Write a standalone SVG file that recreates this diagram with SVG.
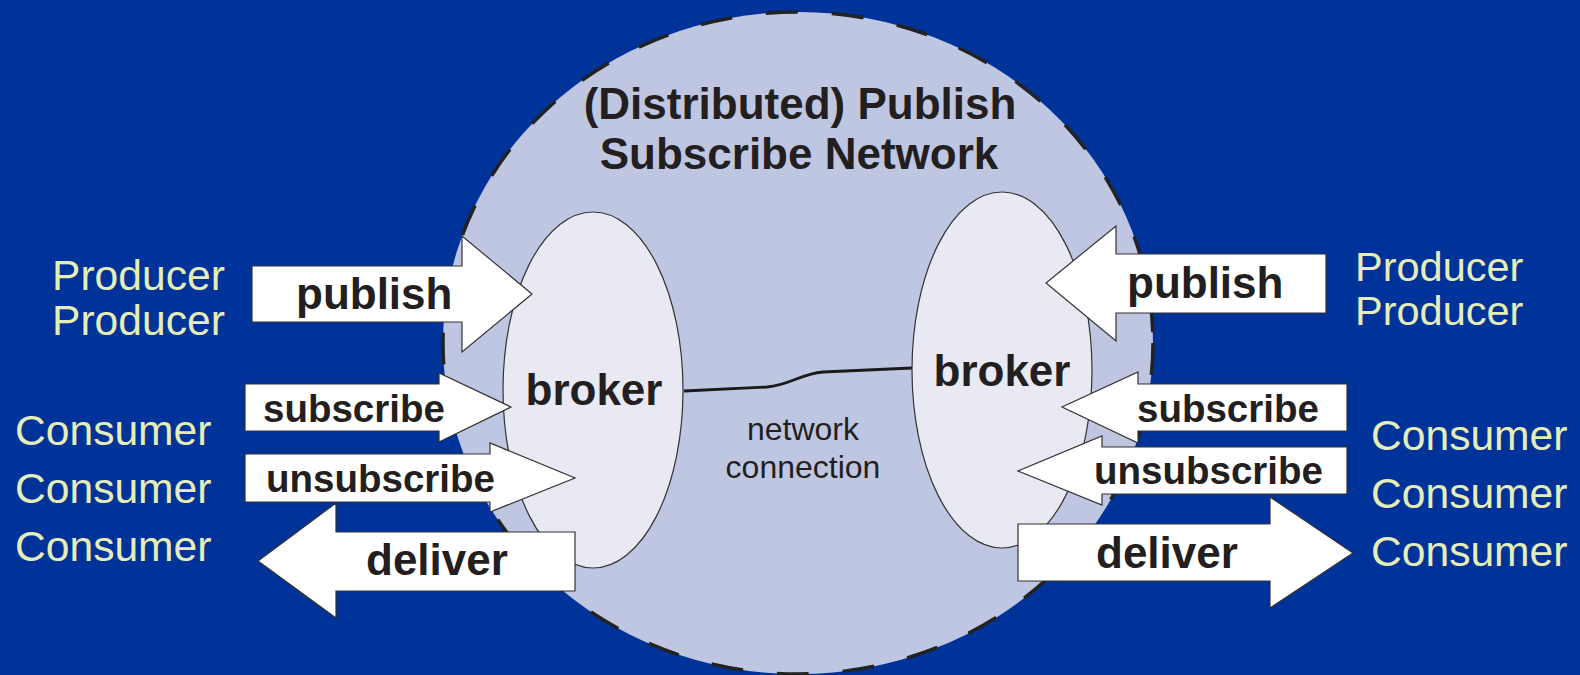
<svg xmlns="http://www.w3.org/2000/svg" width="1580" height="675" viewBox="0 0 1580 675">
  <style>
    .bg { fill: #003399; }
    .net { fill: #BFC6E2; stroke: #222; stroke-width: 3.5; stroke-dasharray: 32 34; }
    .broker { fill: #E8E9F3; stroke: #333; stroke-width: 1.2; }
    .arrow { fill: #FFFFFF; stroke: #333; stroke-width: 1.2; stroke-linejoin: miter; }
    .link { fill: none; stroke: #1a1a1a; stroke-width: 2.8; }
    .bold { font-family: "Liberation Sans", Arial, sans-serif; font-weight: bold; fill: #231F20; }
    .title { font-size: 44px; text-anchor: middle; }
    .brk { font-size: 44px; text-anchor: middle; }
    .big { font-size: 44px; }
    .small { font-size: 38.5px; }
    .plain { font-family: "Liberation Sans", Arial, sans-serif; fill: #231F20; font-size: 32px; text-anchor: middle; }
    .role { font-family: "Liberation Sans", Arial, sans-serif; fill: #E6EEB8; font-size: 42.6px; }
    .role-tight { font-size: 41.5px; }
  </style>

  <rect class="bg" x="0" y="0" width="1580" height="675"/>

  <!-- publish/subscribe network cloud -->
  <g id="network">
    <ellipse class="net" cx="798" cy="343" rx="355" ry="331"/>
    <text class="bold title" x="800" y="119">(Distributed) Publish</text>
    <text class="bold title" x="799" y="169">Subscribe Network</text>
  </g>

  <!-- broker link -->
  <g id="connectors">
    <path class="link" d="M 684 391 L 767 387 C 790 385 800 374 823 372 L 912 368"/>
    <text class="plain" x="803" y="440">network</text>
    <text class="plain" x="803" y="478">connection</text>
  </g>

  <g id="broker-left">
    <ellipse class="broker" cx="593" cy="390" rx="90" ry="178"/>
    <text class="bold brk" x="594" y="405">broker</text>
  </g>

  <g id="broker-right">
    <ellipse class="broker" cx="1002" cy="370" rx="90" ry="178"/>
    <text class="bold brk" x="1002" y="386">broker</text>
  </g>

  <!-- left side block arrows -->
  <g id="publish-left">
    <polygon class="arrow" points="252,266 462,266 462,236 532,294 462,352 462,322 252,322"/>
    <text class="bold big" x="296" y="309">publish</text>
  </g>
  <g id="subscribe-left">
    <polygon class="arrow" points="245,384 439,384 439,373 511,407 439,442 439,431 245,431"/>
    <text class="bold small" x="263" y="422">subscribe</text>
  </g>
  <g id="unsubscribe-left">
    <polygon class="arrow" points="245,454 490,454 490,443 575,478 490,512 490,502 245,502"/>
    <text class="bold small" x="266" y="492">unsubscribe</text>
  </g>
  <g id="deliver-left">
    <polygon class="arrow" points="575,532 336,532 336,503 258,561 336,618 336,591 575,591"/>
    <text class="bold big" x="366" y="575">deliver</text>
  </g>

  <!-- right side block arrows -->
  <g id="publish-right">
    <polygon class="arrow" points="1326,254 1116,254 1116,226 1046,283 1116,341 1116,313 1326,313"/>
    <text class="bold big" x="1127" y="298">publish</text>
  </g>
  <g id="subscribe-right">
    <polygon class="arrow" points="1347,384 1138,384 1138,372 1062,407 1138,443 1138,431 1347,431"/>
    <text class="bold small" x="1137" y="422">subscribe</text>
  </g>
  <g id="unsubscribe-right">
    <polygon class="arrow" points="1347,447 1102,447 1102,436 1018,471 1102,505 1102,494 1347,494"/>
    <text class="bold small" x="1094" y="484">unsubscribe</text>
  </g>
  <g id="deliver-right">
    <polygon class="arrow" points="1018,524 1270,524 1270,497 1353,553 1270,608 1270,581 1018,581"/>
    <text class="bold big" x="1096" y="568">deliver</text>
  </g>

  <!-- clients -->
  <g id="producers-left">
    <text class="role" x="52" y="290">Producer</text>
    <text class="role" x="52" y="335">Producer</text>
  </g>
  <g id="consumers-left">
    <text class="role" x="15" y="445">Consumer</text>
    <text class="role" x="15" y="503">Consumer</text>
    <text class="role" x="15" y="561">Consumer</text>
  </g>
  <g id="producers-right">
    <text class="role role-tight" x="1355" y="281">Producer</text>
    <text class="role role-tight" x="1355" y="325">Producer</text>
  </g>
  <g id="consumers-right">
    <text class="role" x="1371" y="450">Consumer</text>
    <text class="role" x="1371" y="508">Consumer</text>
    <text class="role" x="1371" y="566">Consumer</text>
  </g>
</svg>
